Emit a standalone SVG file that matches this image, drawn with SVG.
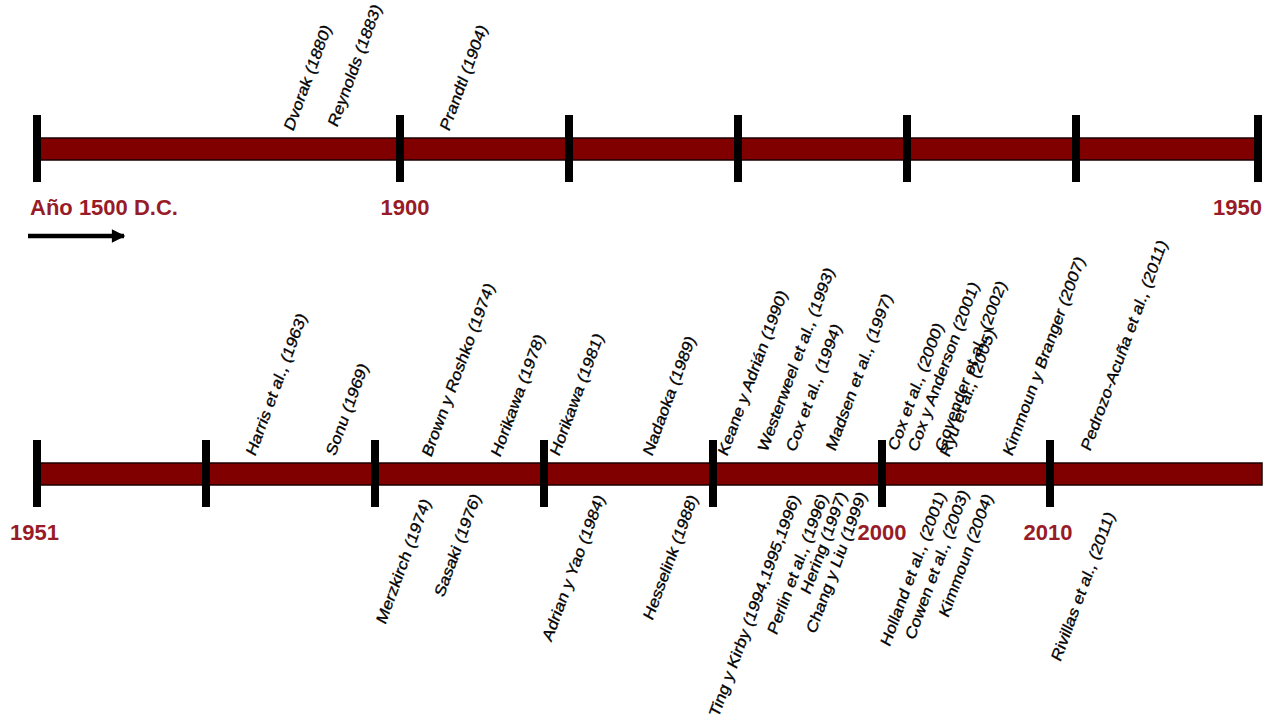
<svg xmlns="http://www.w3.org/2000/svg" width="1275" height="719" viewBox="0 0 1275 719">
<style>
.bar{fill:#800000;stroke:#1a0000;stroke-width:1.5}
.tick{fill:#000}
.lbl{font-family:"Liberation Sans",Arial,sans-serif;font-size:15px;fill:#000;stroke:#000;stroke-width:0.3}
.up{text-anchor:start}
.dn{text-anchor:end}
.yr{font-family:"Liberation Sans",Arial,sans-serif;font-weight:bold;font-size:22px;fill:#981b28}
</style>
<defs>
<marker id="ah" viewBox="0 0 10 10" refX="9" refY="5" markerWidth="3.4" markerHeight="3" orient="auto" markerUnits="strokeWidth">
<path d="M0,0 L10,5 L0,10 z" fill="#000"/>
</marker>
</defs>
<rect width="1275" height="719" fill="#fff"/>
<g id="timeline-top">
<rect class="bar" x="37" y="138" width="1221" height="22"/>
<rect class="tick" x="33" y="115" width="8" height="67"/>
<rect class="tick" x="396" y="115" width="8" height="67"/>
<rect class="tick" x="565" y="115" width="8" height="67"/>
<rect class="tick" x="734" y="115" width="8" height="67"/>
<rect class="tick" x="903" y="115" width="8" height="67"/>
<rect class="tick" x="1072" y="115" width="8" height="67"/>
<rect class="tick" x="1254" y="115" width="8" height="67"/>
</g>
<g id="timeline-bottom">
<rect class="bar" x="37" y="463" width="1225" height="22"/>
<rect class="tick" x="33" y="440" width="8" height="67"/>
<rect class="tick" x="202" y="440" width="8" height="67"/>
<rect class="tick" x="371" y="440" width="8" height="67"/>
<rect class="tick" x="540" y="440" width="8" height="67"/>
<rect class="tick" x="709" y="440" width="8" height="67"/>
<rect class="tick" x="878" y="440" width="8" height="67"/>
<rect class="tick" x="1046" y="440" width="8" height="67"/>
</g>
<g id="years">
<text id="y1500" class="yr" x="30" y="215" font-size="22.5">Año 1500 D.C.</text>
<text id="y1900" class="yr" x="405" y="215" text-anchor="middle">1900</text>
<text id="y1950" class="yr" x="1262" y="215" text-anchor="end">1950</text>
<text id="y1951" class="yr" x="10" y="540">1951</text>
<text id="y2000" class="yr" x="882" y="540" text-anchor="middle">2000</text>
<text id="y2010" class="yr" x="1048" y="540" text-anchor="middle">2010</text>
</g>
<g id="connectors">
<line x1="28" y1="236" x2="124" y2="236" stroke="#000" stroke-width="4.5" marker-end="url(#ah)"/>
</g>
<g id="labels-top">
<g id="n-dvorak"><text class="lbl up" transform="translate(293,132) scale(1,1.2) rotate(-66)">Dvorak (1880)</text></g>
<g id="n-reynolds"><text class="lbl up" transform="translate(337,128) scale(1,1.2) rotate(-66)">Reynolds (1883)</text></g>
<g id="n-prandtl"><text class="lbl up" transform="translate(449,132) scale(1,1.2) rotate(-66)">Prandtl (1904)</text></g>
</g>
<g id="labels-bottom-above">
<g id="n-harris"><text class="lbl up" transform="translate(255,457) scale(1,1.2) rotate(-66)">Harris et al., (1963)</text></g>
<g id="n-sonu"><text class="lbl up" transform="translate(335,457) scale(1,1.2) rotate(-66)">Sonu (1969)</text></g>
<g id="n-brown"><text class="lbl up" transform="translate(431,458) scale(1,1.2) rotate(-66)">Brown y Roshko (1974)</text></g>
<g id="n-horikawa78"><text class="lbl up" transform="translate(500,458) scale(1,1.2) rotate(-66)">Horikawa (1978)</text></g>
<g id="n-horikawa81"><text class="lbl up" transform="translate(559,457) scale(1,1.2) rotate(-66)">Horikawa (1981)</text></g>
<g id="n-nadaoka"><text class="lbl up" transform="translate(652,457) scale(1,1.2) rotate(-66)">Nadaoka (1989)</text></g>
<g id="n-keane"><text class="lbl up" transform="translate(727,457) scale(1,1.2) rotate(-66)">Keane y Adrián (1990)</text></g>
<g id="n-westerweel"><text class="lbl up" transform="translate(767,453) scale(1,1.2) rotate(-66)">Westerweel et al., (1993)</text></g>
<g id="n-cox94"><text class="lbl up" transform="translate(795,453) scale(1,1.2) rotate(-66)">Cox et al., (1994)</text></g>
<g id="n-madsen"><text class="lbl up" transform="translate(835,452) scale(1,1.2) rotate(-66)">Madsen et al., (1997)</text></g>
<g id="n-cox00"><text class="lbl up" transform="translate(897,452) scale(1,1.2) rotate(-66)">Cox et al., (2000)</text></g>
<g id="n-coxanderson"><text class="lbl up" transform="translate(917,453) scale(1,1.2) rotate(-66)">Cox y Anderson (2001)</text></g>
<g id="n-govender"><text class="lbl up" transform="translate(944,453) scale(1,1.2) rotate(-66)">Govender et al., (2002)</text></g>
<g id="n-ryu"><text class="lbl up" transform="translate(949,458) scale(1,1.2) rotate(-66)">Ryu et al., (2005)</text></g>
<g id="n-kimmounbranger"><text class="lbl up" transform="translate(1012,457) scale(1,1.2) rotate(-66)">Kimmoun y Branger (2007)</text></g>
<g id="n-pedrozo"><text class="lbl up" transform="translate(1090,452) scale(1,1.2) rotate(-66)">Pedrozo-Acuña et al., (2011)</text></g>
</g>
<g id="labels-bottom-below">
<g id="n-merzkirch"><text class="lbl dn" transform="translate(431,502) scale(1,1.2) rotate(-66)">Merzkirch (1974)</text></g>
<g id="n-sasaki"><text class="lbl dn" transform="translate(481,497) scale(1,1.2) rotate(-66)">Sasaki (1976)</text></g>
<g id="n-adrian"><text class="lbl dn" transform="translate(605,498) scale(1,1.2) rotate(-66)">Adrian y Yao (1984)</text></g>
<g id="n-hesselink"><text class="lbl dn" transform="translate(698,498) scale(1,1.2) rotate(-66)">Hesselink (1988)</text></g>
<g id="n-ting"><text class="lbl dn" transform="translate(800,498) scale(1,1.2) rotate(-66)">Ting y Kirby (1994,1995,1996)</text></g>
<g id="n-perlin"><text class="lbl dn" transform="translate(828,497) scale(1,1.2) rotate(-66)">Perlin et al., (1996)</text></g>
<g id="n-hering"><text class="lbl dn" transform="translate(847,495) scale(1,1.2) rotate(-66)">Hering (1997)</text></g>
<g id="n-chang"><text class="lbl dn" transform="translate(867,495) scale(1,1.2) rotate(-66)">Chang y Liu (1999)</text></g>
<g id="n-holland"><text class="lbl dn" transform="translate(946,495) scale(1,1.2) rotate(-66)">Holland et al., (2001)</text></g>
<g id="n-cowen"><text class="lbl dn" transform="translate(969,493) scale(1,1.2) rotate(-66)">Cowen et al., (2003)</text></g>
<g id="n-kimmoun04"><text class="lbl dn" transform="translate(993,497) scale(1,1.2) rotate(-66)">Kimmoun (2004)</text></g>
<g id="n-rivillas"><text class="lbl dn" transform="translate(1115,515) scale(1,1.2) rotate(-66)">Rivillas et al., (2011)</text></g>
</g>
</svg>
